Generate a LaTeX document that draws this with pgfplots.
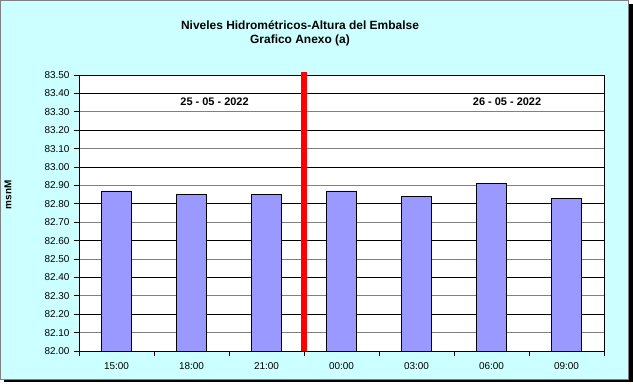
\documentclass[border=0pt]{standalone}
\usepackage{pgfplots}
\pgfplotsset{compat=1.18}
\usepackage{fontspec}
\setmainfont{Liberation Sans}
\definecolor{bgcyan}{RGB}{204,255,255}
\definecolor{barblue}{RGB}{153,153,255}
\definecolor{gridgray}{RGB}{128,128,128}
\begin{document}
\begin{tikzpicture}
\useasboundingbox (0,0) rectangle (633bp,-385bp);
% shadow and background
\fill[black] (4bp,-4bp) rectangle (633bp,-382bp);
\fill[bgcyan, draw=gridgray, line width=1bp] (0.5bp,-0.5bp) rectangle (628bp,-379bp);
% title
\node[anchor=base, font=\fontsize{12}{14}\selectfont\bfseries] at (300bp,-29bp) {Niveles Hidrométricos-Altura del Embalse};
\node[anchor=base, font=\fontsize{12}{14}\selectfont\bfseries] at (300bp,-43bp) {Grafico Anexo (a)};
% y label
\node[rotate=90, font=\fontsize{10}{12}\selectfont\bfseries] at (8bp,-195bp) {msnM};
\begin{axis}[
  at={(79bp,-351bp)}, anchor=south west,
  scale only axis, width=525bp, height=276bp,
  xmin=-0.5, xmax=6.5, ymin=82, ymax=83.5,
  axis background/.style={fill=white},
  xtick={-0.5,0.5,1.5,2.5,3.5,4.5,5.5,6.5},
  x tick label as interval,
  xticklabels={15:00,18:00,21:00,00:00,03:00,06:00,09:00},
  ytick={82,82.1,82.2,82.3,82.4,82.5,82.6,82.7,82.8,82.9,83,83.1,83.2,83.3,83.4,83.5},
  yticklabel style={/pgf/number format/fixed, /pgf/number format/fixed zerofill, /pgf/number format/precision=2, xshift=-1bp},
  /pgf/number format/assume math mode=true,
  xtick pos=bottom, ytick pos=left,
  ymajorgrids, major grid style={gridgray, line width=1bp},
  extra y ticks={82.2,82.4,82.6,82.8,83,83.2,83.4},
  extra y tick labels={},
  extra y tick style={grid=major, major grid style={black, line width=0.8bp}, major tick length=0pt},
  tick align=outside, major tick length=5bp,
  tick style={black, line width=0.8bp},
  ticklabel style={font=\fontsize{10}{12}\selectfont},
  xticklabel style={yshift=-3bp},
  axis line style={black, line width=1bp},
  clip=false,
]
\addplot[ybar, bar width=30bp, fill=barblue, draw=black, line width=0.7bp]
  coordinates {(0,82.87) (1,82.85) (2,82.85) (3,82.87) (4,82.84) (5,82.91) (6,82.83)};
\addplot[red, line width=5.5bp] coordinates {(2.5,82.0) (2.5,83.515)};
\node[font=\fontsize{11}{13}\selectfont\bfseries] at (axis cs:1.307,83.353) {25 - 05 - 2022};
\node[font=\fontsize{11}{13}\selectfont\bfseries] at (axis cs:5.207,83.353) {26 - 05 - 2022};
\end{axis}
\end{tikzpicture}
\end{document}
